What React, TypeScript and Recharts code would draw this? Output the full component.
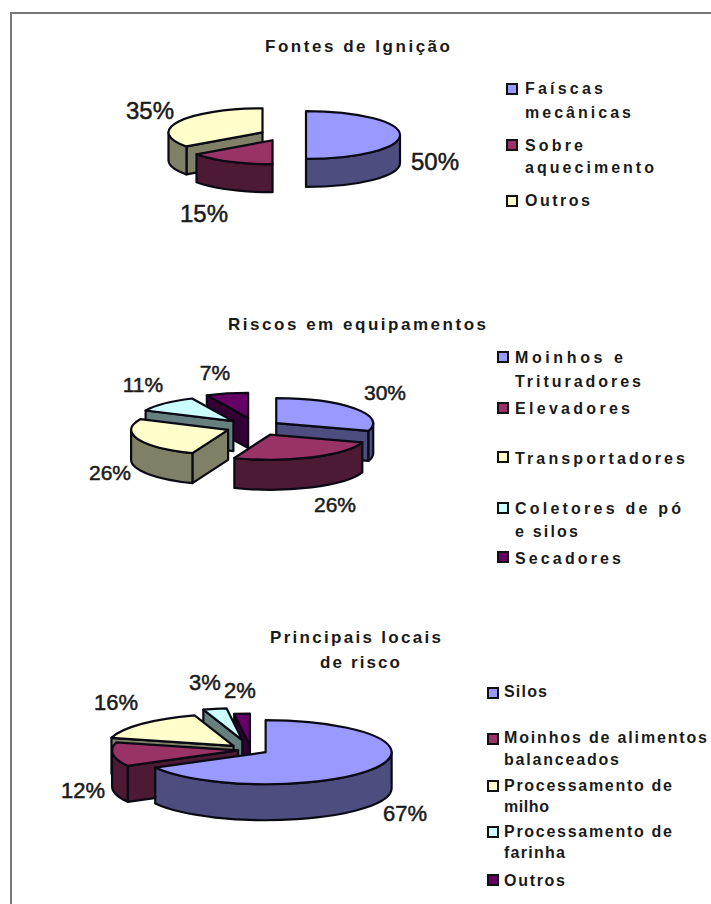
import React from 'react';
import { PieChart, Pie } from 'recharts';

// values (percent)
const ignitionNames = ['Faíscas mecânicas', 'Sobre aquecimento', 'Outros'];
const ignitionValues = [50, 15, 35];
const equipmentNames = ['Moinhos e Trituradores', 'Elevadores', 'Transportadores', 'Coletores de pó e silos', 'Secadores'];
const equipmentValues = [30, 26, 26, 11, 7];
const placeNames = ['Silos', 'Moinhos de alimentos balanceados', 'Processamento de milho', 'Processamento de farinha', 'Outros'];
const placeValues = [67, 12, 16, 3, 2];

const TOP_COLORS = ['#9999ff', '#993366', '#ffffcc', '#ccffff', '#660066'];
const SIDE_COLORS = ['#4d4d80', '#4d1a33', '#808066', '#668080', '#330033'];

const FONT = '"Liberation Sans", Arial, sans-serif';
const INK = '#1a1a1a';

const toData = (names: string[], values: number[]) =>
  names.map((name, i) => ({ name, value: values[i], slot: i }));

const rad = (deg: number) => (deg * Math.PI) / 180;

// one exploded, flattened 3D wedge. Angles and radius come from the Pie layout.
const wedge = (props: any, only: number, conf: any) => {
  const slot = props.slot ?? props.payload?.slot;
  if (slot !== only) return <g />;
  const a0 = 90 - props.startAngle;
  const a1 = 90 - props.endAngle;
  const mid = (a0 + a1) / 2;
  const rx = props.outerRadius;
  const ry = rx * conf.squash;
  const d = conf.explode[only];
  const x = props.cx + d * Math.sin(rad(mid));
  const y = props.cy - d * Math.cos(rad(mid)) * conf.squash;
  const pt = (t: number, drop = 0) => `${x + rx * Math.sin(rad(t))} ${y - ry * Math.cos(rad(t)) + drop}`;
  const h = conf.depth;
  const style = { stroke: '#0a0a14', strokeWidth: 2.2, strokeLinejoin: 'round' as const };
  const top = TOP_COLORS[only];
  const side = SIDE_COLORS[only];
  const w0 = Math.max(a0, 90);
  const w1 = Math.min(a1, 270);
  const cut = (t: number) => (
    <path d={`M ${x} ${y} L ${pt(t)} L ${pt(t, h)} L ${x} ${y + h} Z`} fill={side} {...style} />
  );
  return (
    <g>
      {Math.sin(rad(a0)) < -0.001 && cut(a0)}
      {Math.sin(rad(a1)) > 0.001 && cut(a1)}
      {w1 > w0 && (
        <path
          d={`M ${pt(w0)} A ${rx} ${ry} 0 0 1 ${pt(w1)} L ${pt(w1, h)} A ${rx} ${ry} 0 0 0 ${pt(w0, h)} Z`}
          fill={side}
          {...style}
        />
      )}
      <path
        d={`M ${x} ${y} L ${pt(a0)} A ${rx} ${ry} 0 ${a1 - a0 > 180 ? 1 : 0} 1 ${pt(a1)} Z`}
        fill={top}
        {...style}
      />
    </g>
  );
};

// legend rows: swatch centre y, then [text, baseline y, width]
const charts = [
  {
    data: toData(ignitionNames, ignitionValues),
    cx: 283, cy: 135, radius: 94, squash: 0.255, depth: 28,
    explode: [23, 23, 23],
    zOrder: [0, 2, 1],
    labelSize: 24,
    labelAt: [[435, 170], [204, 222], [150, 119]],
    title: [{ text: 'Fontes de Ignição', x: 265, y: 52, w: 185 }],
    swatchX: 507,
    textX: 525,
    legend: [
      { slot: 0, y: 89, lines: [['Faíscas', 94, 78]] , extra: [['mecânicas', 118, 106]] },
      { slot: 1, y: 145, lines: [['Sobre', 151, 58]], extra: [['aquecimento', 173, 129]] },
      { slot: 2, y: 201, lines: [['Outros', 206, 65]], extra: [] },
    ],
  },
  {
    data: toData(equipmentNames, equipmentValues),
    cx: 256, cy: 427, radius: 97, squash: 0.258, depth: 30,
    explode: [25, 33, 30, 32, 36],
    zOrder: [0, 4, 3, 2, 1],
    labelSize: 21,
    labelAt: [[385, 400], [335, 512], [110, 480], [143, 392], [215, 380]],
    title: [{ text: 'Riscos em equipamentos', x: 228, y: 330, w: 258 }],
    swatchX: 498,
    textX: 515,
    legend: [
      { slot: 0, y: 357, lines: [['Moinhos e', 363, 108]], extra: [['Trituradores', 387, 126]] },
      { slot: 1, y: 408, lines: [['Elevadores', 414, 115]], extra: [] },
      { slot: 2, y: 457, lines: [['Transportadores', 464, 170]], extra: [] },
      { slot: 3, y: 508, lines: [['Coletores de pó', 514, 166]], extra: [['e silos', 537, 63]] },
      { slot: 4, y: 557, lines: [['Secadores', 564, 106]], extra: [] },
    ],
  },
  {
    data: toData(placeNames, placeValues),
    cx: 251, cy: 750, radius: 126, squash: 0.254, depth: 36,
    explode: [17, 13, 24, 40, 17],
    zOrder: [4, 3, 2, 1, 0],
    labelSize: 22,
    labelAt: [[405, 821], [83, 798], [116, 710], [205, 690], [240, 698]],
    title: [
      { text: 'Principais locais', x: 270, y: 643, w: 171 },
      { text: 'de risco', x: 320, y: 668, w: 80 },
    ],
    swatchX: 488,
    textX: 504,
    legend: [
      { slot: 0, y: 693, lines: [['Silos', 697, 43]], extra: [] },
      { slot: 1, y: 739, lines: [['Moinhos de alimentos', 743, 203]], extra: [['balanceados', 765, 115]] },
      { slot: 2, y: 786, lines: [['Processamento de', 791, 168]], extra: [['milho', 812, 45]] },
      { slot: 3, y: 832, lines: [['Processamento de', 837, 168]], extra: [['farinha', 858, 61]] },
      { slot: 4, y: 880, lines: [['Outros', 886, 61]], extra: [] },
    ],
  },
];

export default function App() {
  return (
    <div style={{ position: 'absolute', left: 0, top: 0, width: 711, height: 904, background: '#fff', overflow: 'hidden' }}>
      <div style={{ position: 'absolute', left: 10, top: 12, right: -4, bottom: -4, borderLeft: '2px solid #777', borderTop: '2px solid #777' }} />
      <PieChart width={711} height={904} margin={{ top: 0, right: 0, bottom: 0, left: 0 }} style={{ position: 'absolute', left: 0, top: 0 }}>
        {charts.flatMap((c, ci) =>
          c.zOrder.map((slot) => (
            <Pie
              key={`${ci}-${slot}`}
              data={c.data}
              dataKey="value"
              nameKey="name"
              cx={c.cx}
              cy={c.cy}
              outerRadius={c.radius}
              startAngle={90}
              endAngle={-270}
              isAnimationActive={false}
              shape={(p: any) => wedge(p, slot, c)}
            />
          ))
        )}
        {charts.map((c, ci) => (
          <g key={ci} fontFamily={FONT} fill={INK}>
            {c.data.map((d, i) => (
              <text key={i} x={c.labelAt[i][0]} y={c.labelAt[i][1]} fontSize={c.labelSize} textAnchor="middle" stroke={INK} strokeWidth={0.5}>
                {d.value}%
              </text>
            ))}
            {c.title.map((t) => (
              <text key={t.text} x={t.x} y={t.y} fontSize={17} fontWeight="bold" textLength={t.w} lengthAdjust="spacing">
                {t.text}
              </text>
            ))}
            {c.legend.map((l) => (
              <g key={l.slot}>
                <rect x={c.swatchX} y={l.y - 5} width={10} height={10} fill={TOP_COLORS[l.slot]} stroke="#111" strokeWidth={2} />
                {[...l.lines, ...l.extra].map(([line, y, w]) => (
                  <text key={line as string} x={c.textX} y={y as number} fontSize={16} fontWeight="bold" textLength={w as number} lengthAdjust="spacing">
                    {line}
                  </text>
                ))}
              </g>
            ))}
          </g>
        ))}
      </PieChart>
    </div>
  );
}
